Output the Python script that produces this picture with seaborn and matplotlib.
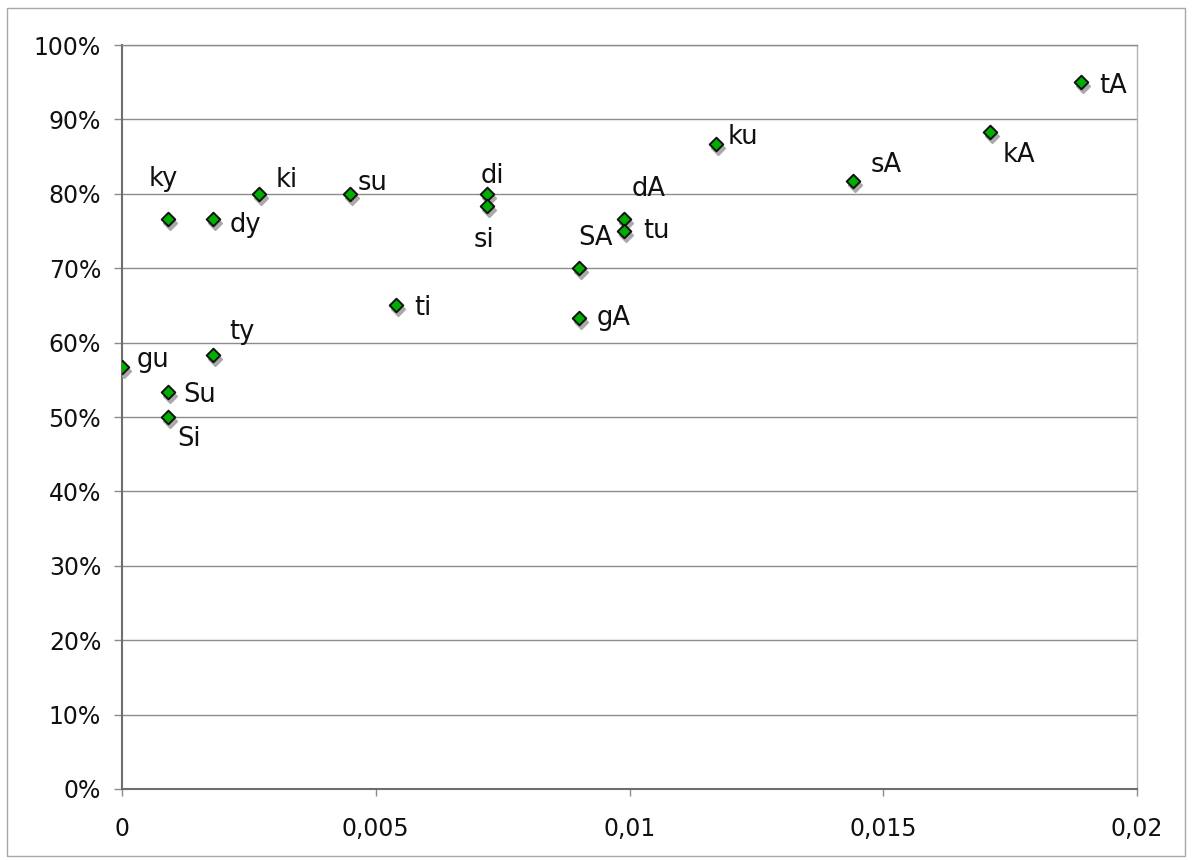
import pandas as pd
import matplotlib
matplotlib.use("Agg")
import matplotlib.pyplot as plt
from matplotlib.ticker import PercentFormatter, FuncFormatter, MultipleLocator
from matplotlib.transforms import offset_copy
from matplotlib.patches import Rectangle
import seaborn as sns

# data
labels = ["gu", "Su", "Si", "ky", "dy", "ty", "ki", "su", "ti", "di", "si",
          "SA", "gA", "dA", "tu", "ku", "sA", "kA", "tA"]
x_vals = [0.0, 0.0009, 0.0009, 0.0009, 0.0018, 0.0018, 0.0027, 0.0045, 0.0054,
          0.0072, 0.0072, 0.0090, 0.0090, 0.0099, 0.0099, 0.0117, 0.0144,
          0.0171, 0.0189]
y_vals = [0.5667, 0.5333, 0.50, 0.7667, 0.7667, 0.5833, 0.80, 0.80, 0.65,
          0.80, 0.7833, 0.70, 0.6333, 0.7667, 0.75, 0.8667, 0.8167, 0.8833, 0.95]

# label offsets in pixels (dx right, dy down), to the text baseline
label_offsets = {
    "gu": (15, 0), "Su": (16, 10), "Si": (10, 29), "ky": (-19, -33),
    "dy": (16, 13), "ty": (16, -16), "ki": (17, -7), "su": (7, -4),
    "ti": (18, 10), "di": (-7, -11), "si": (-14, 41), "SA": (-1, -23),
    "gA": (18, 7), "dA": (7, -23), "tu": (19, 7), "ku": (12, 0),
    "sA": (18, -9), "kA": (13, 30), "tA": (18, 11),
}

df = pd.DataFrame({"x": x_vals, "y": y_vals, "label": labels})

sns.set_style("white")
plt.rcParams["font.family"] = ["DejaVu Sans"]

fig = plt.figure(figsize=(11.92, 8.6), dpi=100)
ax = fig.add_axes([122 / 1192, 1 - 789 / 860, (1137 - 122) / 1192, (789 - 45) / 860])

# outer frame
fig.patches.append(Rectangle((7 / 1192, 4 / 860), (1185 - 7) / 1192, (854 - 6) / 860,
                             transform=fig.transFigure, fill=False,
                             edgecolor="#a8a8a8", linewidth=1))

shadow = offset_copy(ax.transData, fig=fig, x=2, y=-4, units="dots")
sns.scatterplot(data=df, x="x", y="y", ax=ax, marker="D", s=48, color="#a9a9a9",
                edgecolor="#a9a9a9", linewidth=1.2, transform=shadow, zorder=3,
                legend=False)
sns.scatterplot(data=df, x="x", y="y", ax=ax, marker="D", s=48, color="#00b000",
                edgecolor="#111111", linewidth=1.4, zorder=4, legend=False)

for lab, xv, yv in zip(labels, x_vals, y_vals):
    dx, dy = label_offsets[lab]
    ax.annotate(lab, (xv, yv), xytext=(dx * 0.72, -dy * 0.72),
                textcoords="offset points", ha="left", va="baseline",
                fontsize=18.5, color="#111111", zorder=5)

ax.set_xlim(0, 0.02)
ax.set_ylim(0, 1)
ax.xaxis.set_major_locator(MultipleLocator(0.005))
ax.yaxis.set_major_locator(MultipleLocator(0.1))
ax.yaxis.set_major_formatter(PercentFormatter(1.0, decimals=0))
ax.xaxis.set_major_formatter(FuncFormatter(lambda v, p: f"{v:g}".replace(".", ",")))
ax.set_xlabel("")
ax.set_ylabel("")

ax.grid(axis="y", color="#8c8c8c", linewidth=1)
ax.grid(axis="x", visible=False)
ax.set_axisbelow(True)

ax.spines["left"].set_color("#6e6e6e")
ax.spines["bottom"].set_color("#6e6e6e")
ax.spines["left"].set_linewidth(1.5)
ax.spines["bottom"].set_linewidth(1.5)
ax.spines["right"].set_color("#b4b4b4")
ax.spines["top"].set_color("#8c8c8c")
ax.spines["right"].set_linewidth(1)
ax.spines["top"].set_linewidth(1)

ax.tick_params(axis="y", direction="out", length=6, width=1, color="#8c8c8c",
               pad=9, labelsize=17, labelcolor="#111111", left=True)
ax.tick_params(axis="x", direction="out", length=5, width=1, color="#8c8c8c",
               pad=15, labelsize=17, labelcolor="#111111", bottom=True)

fig.savefig("out.png", dpi=100)
